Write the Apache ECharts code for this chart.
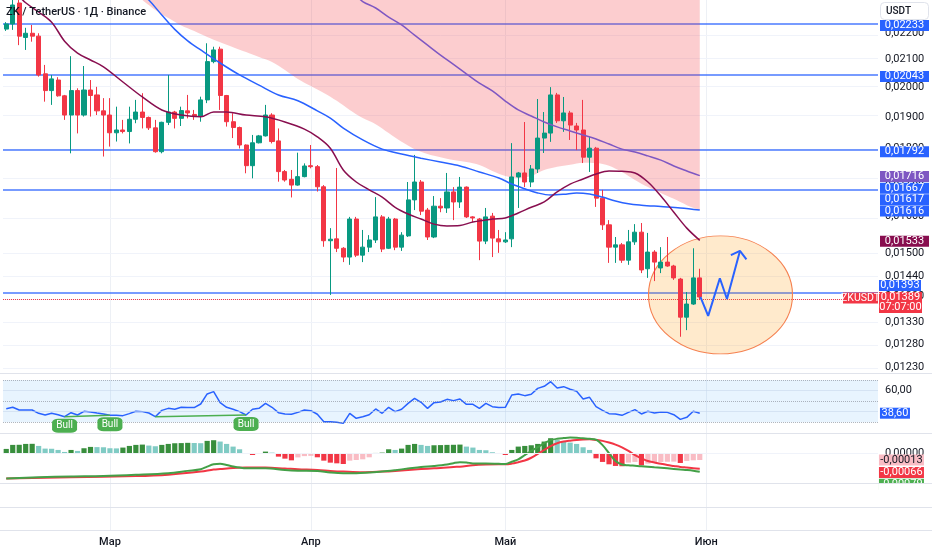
<!DOCTYPE html>
<html><head><meta charset="utf-8">
<script src="https://cdn.jsdelivr.net/npm/echarts@6/dist/echarts.min.js"></script>
<style>html,body{margin:0;padding:0;background:#fff}#c{width:932px;height:550px}</style>
</head><body><div id="c"></div>
<script>
// ---------- data ----------
const opens=[.02215,.02235,.02318,.02183,.02199,.02188,.02049,.01990,.02027,.01972,
.01907,.01990,.01907,.01992,.01975,.01921,.01907,.01849,.01858,.01853,
.01893,.01917,.01899,.01865,.01789,.01883,.01917,.01896,.01921,.01909,
.01902,.01958,.02093,.02139,.01973,.01885,.01866,.01810,.01746,.01817,
.01839,.01907,.01823,.01728,.01705,.01688,.01713,.01746,.01743,.01683,
.01532,.01537,.01512,.01489,.01591,.01494,.01515,.01534,.01597,.01512,
.01591,.01515,.01545,.01645,.01697,.01616,.01542,.01627,.01622,.01668,
.01639,.01682,.01597,.01591,.01531,.01599,.01537,.01529,.01537,.01712,
.01724,.01697,.01736,.01832,.01848,.01975,.01888,.01914,.01871,.01858,
.01772,.01800,.01650,.01575,.01515,.01521,.01481,.01529,.01555,.01459,
.01502,.01461,.01476,.01466,.01433,.01341,.01372,.01436];
const closes=[.02235,.02310,.02188,.02199,.02188,.02045,.01990,.02031,.01972,.01907,
.01990,.01907,.01992,.01973,.01921,.01907,.01849,.01858,.01853,.01893,
.01917,.01899,.01865,.01789,.01883,.01917,.01896,.01922,.01914,.01902,
.01958,.02093,.02136,.01973,.01885,.01866,.01810,.01746,.01817,.01839,
.01907,.01821,.01728,.01703,.01688,.01713,.01745,.01743,.01683,.01532,
.01536,.01512,.01489,.01591,.01494,.01515,.01534,.01597,.01510,.01591,
.01515,.01547,.01645,.01697,.01613,.01542,.01627,.01622,.01668,.01639,
.01682,.01597,.01594,.01531,.01597,.01539,.01529,.01534,.01712,.01724,
.01697,.01736,.01832,.01848,.01975,.01888,.01914,.01874,.01858,.01772,
.01800,.01650,.01575,.01515,.01521,.01481,.01529,.01555,.01456,.01502,
.01476,.01476,.01466,.01436,.01341,.01372,.01436,.01389];
const lows=[.02208,.02212,.02154,.02136,.02167,.02039,.01952,.01941,.01969,.01891,
.01784,.01847,.01902,.01902,.01907,.01774,.01805,.01821,.01847,.01815,
.01880,.01863,.01858,.01786,.01784,.01874,.01863,.01871,.01896,.01891,
.01885,.01947,.02087,.01924,.01869,.01832,.01799,.01723,.01708,.01815,
.01837,.01815,.01698,.01698,.01652,.01686,.01711,.01738,.01669,.01516,
.01394,.01502,.01476,.01469,.01489,.01476,.01502,.01526,.01502,.01510,
.01507,.01505,.01542,.01616,.01602,.01534,.01539,.01610,.01608,.01588,
.01622,.01594,.01583,.01481,.01523,.01489,.01500,.01526,.01515,.01622,
.01682,.01682,.01724,.01785,.01820,.01881,.01852,.01826,.01794,.01754,
.01727,.01625,.01561,.01474,.01474,.01474,.01469,.01521,.01448,.01436,
.01428,.01448,.01464,.01431,.01296,.01311,.01370,.01382];
const highs=[.02242,.02338,.02330,.02220,.02231,.02199,.02081,.02045,.02037,.01975,
.02113,.01998,.02077,.02027,.02003,.01964,.01964,.01935,.01891,.01935,
.01958,.01981,.01902,.01891,.01885,.02045,.01921,.01935,.01975,.01924,
.01969,.02161,.02148,.02148,.01975,.01913,.01869,.01812,.01842,.01842,
.01941,.01913,.01863,.01733,.01733,.01786,.01753,.01810,.01748,.01688,
.01566,.01739,.01515,.01597,.01597,.01561,.01547,.01653,.01602,.01597,
.01594,.01555,.01697,.01779,.01703,.01622,.01656,.01650,.01724,.01682,
.01712,.01684,.01599,.01594,.01622,.01608,.01561,.01555,.01816,.01727,
.01884,.01748,.01961,.01917,.02002,.01982,.01968,.01921,.01881,.01958,
.01836,.01804,.01674,.01588,.01542,.01526,.01561,.01577,.01580,.01553,
.01507,.01515,.01542,.01469,.01436,.01401,.01512,.01459];

// moving averages and cloud edge: [day index, price]
const maMaroon=[[2,.02345],[3,.02319],[5,.02282],[7,.02242],[9,.02169],[11,.02124],[13,.02099],[15,.02074],[18,.02020],[21,.01968],[24,.01924],[27,.01907],[30,.01901],[32,.01917],[34,.01917],[37,.01907],[40,.01901],[43,.01884],[46,.01861],[48,.01836],[50,.01800],[52,.01733],[54,.01697],[56,.01674],[58,.01653],[60,.01624],[62,.01605],[64,.01591],[66,.01577],[68,.01572],[70,.01573],[72,.01583],[75,.01591],[77,.01594],[79,.01608],[81,.01624],[83,.01639],[85,.01668],[87,.01691],[89,.01706],[91,.01721],[93,.01730],[95,.01729],[97,.01724],[99,.01697],[101,.01656],[103,.01610],[105,.01566],[107,.01533]];
const maBlue=[[21,.02350],[22,.02330],[24,.02270],[26,.02214],[28,.02170],[30,.02136],[33,.02088],[36,.02045],[39,.02009],[42,.01975],[45,.01955],[48,.01921],[50,.01897],[52,.01864],[55,.01826],[58,.01797],[61,.01782],[64,.01769],[67,.01757],[70,.01745],[73,.01727],[76,.01709],[78,.01691],[80,.01677],[82,.01665],[84,.01659],[86,.01661],[88,.01665],[90,.01662],[92,.01653],[94,.01642],[96,.01634],[98,.01630],[101,.01626],[104,.01622],[107,.01616]];
const maPurple=[[54,.02350],[55,.02324],[57,.02298],[59,.02262],[61,.02231],[63,.02192],[65,.02154],[67,.02117],[69,.02083],[71,.02049],[73,.02016],[75,.01989],[77,.01954],[79,.01924],[81,.01904],[83,.01884],[85,.01868],[87,.01855],[89,.01842],[91,.01829],[93,.01813],[95,.01797],[97,.01788],[99,.01776],[101,.01763],[103,.01745],[105,.01730],[107,.01716]];
const cloudEdge=[[21,.02330],[23,.02290],[25,.02258],[27,.02229],[29,.02208],[31,.02185],[33,.02165],[35,.02146],[37,.02128],[39,.02110],[41,.02092],[43,.02063],[45,.02031],[47,.02006],[49,.01982],[51,.01955],[53,.01924],[55,.01897],[57,.01877],[59,.01848],[61,.01820],[63,.01797],[65,.01782],[67,.01772],[69,.01763],[71,.01757],[73,.01748],[75,.01730],[77,.01715],[79,.01709],[81,.01715],[83,.01733],[85,.01743],[87,.01749],[89,.01755],[91,.01754],[93,.01746],[95,.01727],[97,.01703],[99,.01682],[101,.01665],[103,.01648],[105,.01630],[107,.01616]];
const hiddenMaLast=[0.01617];

const levels=[0.02233,0.02043,0.01792,0.01667,0.01393];
const priceTicks=[0.0220,0.0210,0.0200,0.0190,0.0180,0.0170,0.0160,0.0150,0.0144,0.0139,0.0133,0.0128,0.0123];
const monthNames=['Янв','Фев','Мар','Апр','Май','Июн','Июл'];
const countdown='07:07:00';

const rsi=[42.9,44.2,41.6,41.6,41.6,38.5,36.9,38.5,37.2,35.3,
39.1,36.9,40.4,39.8,38.8,37.9,36.6,36.6,36.3,38.2,
40.4,40.1,38.8,35.3,41.3,43.2,42.3,44.2,43.9,43.9,
47.3,56.8,59.0,48.6,44.2,42.3,40.1,36.9,42.3,43.2,
47.9,44.2,39.1,37.9,37.6,39.4,41.6,41.0,37.6,30.6,
30.6,30.0,29.0,38.5,33.8,35.3,37.2,42.6,38.5,44.2,
40.1,42.3,47.9,52.7,48.9,43.2,48.6,49.2,51.7,50.5,
52.0,47.0,47.0,43.2,47.9,44.8,43.9,44.2,55.8,56.8,
55.2,56.5,62.1,64.0,68.4,62.4,63.7,61.2,59.3,52.0,
53.6,44.8,41.3,38.2,37.9,36.6,39.4,42.0,37.9,40.4,
38.8,39.8,39.4,37.2,32.8,34.7,40.4,38.6];
const bullLines=[[9,16],[23,37]];
const bullMarks=[9,16,37];

const macdHist=[8.5e-5,16.3e-5,16.5e-5,18.2e-5,18.4e-5,14.3e-5,9.1e-5,8.8e-5,6.5e-5,2.6e-5,
6.5e-5,4.6e-5,9.8e-5,12.4e-5,12.0e-5,11.7e-5,9.8e-5,9.5e-5,11.1e-5,14.3e-5,
16.3e-5,16.9e-5,15.0e-5,13.7e-5,16.3e-5,18.2e-5,19.5e-5,19.8e-5,20.3e-5,20.0e-5,
19.6e-5,24.1e-5,25.4e-5,22.8e-5,18.2e-5,13.0e-5,7.8e-5,-1.3e-5,-3.3e-5,-1.3e-5,
3.3e-5,1.3e-5,-6.5e-5,-10.4e-5,-13.7e-5,-8.0e-5,-5.5e-5,-5.0e-5,-7.8e-5,-14.3e-5,
-18.2e-5,-19.5e-5,-20.8e-5,-14.3e-5,-13.0e-5,-11.7e-5,-7.8e-5,0.65e-5,1.3e-5,7.8e-5,
6.5e-5,9.1e-5,16.3e-5,18.2e-5,16.3e-5,14.3e-5,15.6e-5,15.9e-5,16.3e-5,16.5e-5,
16.9e-5,13.0e-5,11.1e-5,6.5e-5,5.9e-5,2.0e-5,-1.3e-5,-3.3e-5,6.5e-5,13.0e-5,
14.3e-5,15.6e-5,18.2e-5,22.8e-5,29.3e-5,26.0e-5,22.8e-5,20.8e-5,18.2e-5,11.7e-5,
6.5e-5,-9.8e-5,-16.8e-5,-21.4e-5,-24.6e-5,-25.2e-5,-18.1e-5,-16.8e-5,-23.3e-5,-20.1e-5,
-18.1e-5,-16.8e-5,-16.5e-5,-16.2e-5,-18.8e-5,-14.9e-5,-13.6e-5,-13.0e-5];
const macdLine=[[0,-0.00107],[5,-0.00102],[10,-0.00099],[15,-0.00097],[20,-0.00092],[25,-0.00085],[28,-0.00075],[30,-0.00068],[31,-0.00057],[32,-0.00047],[33,-0.00045],[34,-0.00050],[35,-0.00056],[36,-0.00061],[37,-0.00064],[40,-0.00064],[43,-0.00071],[45,-0.00074],[48,-0.00076],[50,-0.00082],[52,-0.00085],[54,-0.00085],[56,-0.00082],[58,-0.00078],[60,-0.00072],[62,-0.00065],[64,-0.00058],[66,-0.00054],[68,-0.00048],[69,-0.00042],[70,-0.00038],[71,-0.00039],[72,-0.00043],[74,-0.00043],[76,-0.00045],[77,-0.00046],[78,-0.00036],[79,-0.00026],[80,-0.00008],[81,0.00010],[82,0.00026],[83,0.00043],[84,0.00056],[85,0.00062],[86,0.00065],[87,0.00067],[88,0.00066],[89,0.00064],[90,0.00062],[91,0.00058],[92,0.00035],[93,0.00001],[94,-0.00033],[95,-0.00048],[96,-0.00051],[97,-0.00053],[98,-0.00055],[100,-0.00060],[102,-0.00064],[104,-0.00069],[105,-0.00071],[106,-0.00074],[107,-0.00079]];
const signalLine=[[0,-0.00107],[10,-0.00102],[20,-0.00097],[25,-0.00091],[30,-0.00078],[32,-0.00069],[33,-0.00067],[35,-0.00063],[37,-0.00061],[40,-0.00061],[43,-0.00065],[45,-0.00068],[48,-0.00071],[50,-0.00075],[52,-0.00078],[55,-0.00081],[58,-0.00078],[60,-0.00075],[62,-0.00071],[64,-0.00067],[66,-0.00064],[67,-0.00063],[69,-0.00058],[70,-0.00057],[72,-0.00051],[74,-0.00048],[76,-0.00047],[77,-0.00047],[78,-0.00044],[79,-0.00038],[80,-0.00031],[81,-0.00019],[82,-0.00003],[83,0.00014],[84,0.00031],[85,0.00043],[86,0.00050],[87,0.00054],[88,0.00057],[89,0.00059],[90,0.00060],[91,0.00057],[92,0.00053],[93,0.00046],[94,0.00037],[95,0.00025],[96,0.00010],[97,-0.00008],[98,-0.00021],[99,-0.00033],[100,-0.00039],[101,-0.00045],[102,-0.00050],[103,-0.00054],[104,-0.00058],[105,-0.00061],[106,-0.00064],[107,-0.00066]];

// drawings: [day index, price]
const arrowPath=[[107.1,0.01389],[108.3,0.01344],[110.1,0.01435],[111.2,0.01384],[113.2,0.01505]];
const arrowHead=[[111.8,0.01494],[113.2,0.01505],[114.2,0.01483]];
const circleCenter=[110.2,0.01394];

// ---------- build ----------
const N=135;
const start=Date.UTC(2025,1,13);
const dates=Array.from({length:N},(_,i)=>new Date(start+i*864e5).toISOString().slice(0,10));
const monthStarts=dates.map((d,i)=>d.endsWith('-01')?i:-1).filter(i=>i>=0);
const L=Math.log;
const fmt5=v=>v.toFixed(5).replace('.',',');
const fmt2=v=>v.toFixed(2).replace('.',',');
const priceAxisTop=0.023302, priceAxisBottom=0.012167;
const FONT='Roboto, "Noto Sans", sans-serif';
const axisText={color:'#131722',fontSize:11,fontFamily:FONT};
const hide={show:false};
const toLn=arr=>arr.map(([k,p])=>[k,L(p)]);
const last=a=>a[a.length-1];

function tag(coord,text,bg,w,h,dx,dy,fg,fs){
  return {coord,symbol:'rect',symbolSize:[w,h],symbolOffset:[dx,dy],
    itemStyle:{color:bg},
    label:{show:true,position:'inside',formatter:text,color:fg||'#fff',fontSize:fs||11,lineHeight:10,fontFamily:FONT}};
}
const histColor=i=>{
  const v=macdHist[i], p=i>0?macdHist[i-1]:v-1;
  if(v>=0) return v>=p?'#388e3c':'#80cbc4';
  return v<p?'#f23645':'#f9bcc4';
};

const X=N-0.5;
const mainTags=[
  tag([X,L(levels[0])],fmt5(levels[0]),'#2962ff',49,11,26.5,1),
  tag([X,L(levels[1])],fmt5(levels[1]),'#2962ff',49,11,26.5,1),
  tag([X,L(levels[2])],fmt5(levels[2]),'#2962ff',49,11,26.5,1),
  tag([X,L(last(maPurple)[1])],fmt5(last(maPurple)[1]),'#7e57c2',49,11,26.5,1),
  tag([X,L(levels[3])],fmt5(levels[3]),'#2962ff',49,11,26.5,-4),
  tag([X,L(hiddenMaLast[0])],fmt5(hiddenMaLast[0]),'#2962ff',49,11,26.5,-10),
  tag([X,L(last(maBlue)[1])],fmt5(last(maBlue)[1]),'#2962ff',49,11,26.5,1),
  tag([X,L(last(maMaroon)[1])],fmt5(last(maMaroon)[1]),'#880e4f',49,11,26.5,1),
  tag([X,L(levels[4])],fmt5(levels[4]),'#2962ff',42,11,22,-9.8),
  tag([X,L(last(closes))],fmt5(last(closes))+'\n'+countdown,'#f23645',43,21,22.5,5.4),
  tag([X,L(last(closes))],'ZKUSDT','#f23645',35,11,-17.5,1,'#fff',10.5)
];

const option={
  animation:false,
  backgroundColor:'#ffffff',
  textStyle:{fontFamily:FONT},
  title:[
    {text:'ZK / TetherUS · 1Д · Binance',left:1,top:2,textStyle:{fontSize:11,fontWeight:500,color:'#131722',fontFamily:FONT}},
    {text:'USDT',right:3,top:2,padding:[4,18,4,6],borderColor:'#e0e3eb',borderWidth:1,borderRadius:4,textStyle:{fontSize:10,fontWeight:500,color:'#131722',fontFamily:FONT}}
  ],
  grid:[
    {left:3,right:54,top:0,height:373},
    {left:3,right:54,top:373,height:60},
    {left:3,right:54,top:433,height:50},
    {left:3,right:54,top:0,height:530}
  ],
  xAxis:[
    {type:'category',gridIndex:0,data:dates,show:false},
    {type:'value',gridIndex:0,min:-0.5,max:N-0.5,show:false},
    {type:'category',gridIndex:1,data:dates,show:false},
    {type:'category',gridIndex:2,data:dates,show:false},
    {type:'category',gridIndex:3,data:dates,axisLine:hide,axisTick:hide,splitLine:hide,
      axisLabel:{...axisText,fontWeight:500,margin:7,interval:(i)=>dates[i].endsWith('-01'),formatter:v=>monthNames[+v.slice(5,7)-1]}}
  ],
  yAxis:[
    {type:'value',gridIndex:0,position:'right',min:L(priceAxisBottom),max:L(priceAxisTop),
      axisLine:hide,axisTick:hide,splitLine:hide,
      axisLabel:{...axisText,margin:7,customValues:priceTicks.map(L),formatter:v=>fmt5(Math.exp(v))}},
    {type:'value',gridIndex:1,position:'right',min:19.9,max:76.6,axisLine:hide,axisTick:hide,splitLine:hide,
      axisLabel:{...axisText,margin:7,customValues:[60],formatter:v=>fmt2(v)}},
    {type:'value',gridIndex:2,position:'right',min:-0.001267,max:0.000866,axisLine:hide,axisTick:hide,splitLine:hide,
      axisLabel:{...axisText,margin:7,customValues:[0],formatter:v=>fmt5(v)}},
    {type:'value',gridIndex:2,min:-0.000577,max:0.000394,show:false},
    {type:'value',gridIndex:3,min:0,max:1,show:false}
  ],
  graphic:[
    ...[373.5,433.5,483.5,507.5,530.5].map(y=>({type:'line',z:101,silent:true,shape:{x1:0,y1:y,x2:932,y2:y},style:{stroke:'#e0e3eb',lineWidth:1}})),
    {type:'rect',z:100,silent:true,shape:{x:879,y:484,width:53,height:23},style:{fill:'#ffffff'}}
  ],
  series:[
    {type:'line',xAxisIndex:4,yAxisIndex:4,data:[],silent:true,
      markLine:{z:0,silent:true,symbol:['none','none'],label:hide,lineStyle:{color:'#edf0f5',width:1,type:'solid'},
        data:monthStarts.map(i=>({xAxis:i}))}},
    {type:'line',xAxisIndex:1,yAxisIndex:0,data:[],silent:true,
      markLine:{z:0,silent:true,symbol:['none','none'],label:hide,lineStyle:{color:'#f0f3fa',width:1,type:'solid'},
        data:priceTicks.map(p=>({yAxis:L(p)}))}},
    {type:'line',xAxisIndex:1,yAxisIndex:0,data:[],silent:true,
      markLine:{z:1,silent:true,symbol:['none','none'],label:hide,lineStyle:{color:'rgba(41,98,255,0.85)',width:1.6,type:'solid'},
        data:[...levels.map(v=>({yAxis:L(v)})),
          {yAxis:L(last(closes)),lineStyle:{color:'#f23645',width:1,type:'dotted'}}]}},
    {type:'line',xAxisIndex:0,yAxisIndex:0,z:2,data:toLn(cloudEdge),symbol:'none',smooth:0.3,silent:true,
      lineStyle:{width:0},areaStyle:{origin:'end',color:'rgba(245,60,70,0.26)',opacity:1}},
    {type:'scatter',xAxisIndex:1,yAxisIndex:0,z:2,silent:true,data:[[circleCenter[0],L(circleCenter[1])]],
      symbol:'circle',symbolSize:[144,118],itemStyle:{color:'rgba(255,152,0,0.2)',borderColor:'#f5804f',borderWidth:1,opacity:1}},
    {type:'candlestick',xAxisIndex:0,yAxisIndex:0,z:3,barWidth:4.6,
      data:opens.map((o,i)=>[L(o),L(closes[i]),L(lows[i]),L(highs[i])]),
      itemStyle:{color:'#089981',color0:'#f23645',borderColor:'#089981',borderColor0:'#f23645',borderWidth:1}},
    {type:'line',xAxisIndex:0,yAxisIndex:0,z:4,data:toLn(maBlue),symbol:'none',smooth:0.35,lineStyle:{color:'#2962ff',width:1.5}},
    {type:'line',xAxisIndex:0,yAxisIndex:0,z:4,data:toLn(maPurple),symbol:'none',smooth:0.35,lineStyle:{color:'#7e57c2',width:1.5}},
    {type:'line',xAxisIndex:0,yAxisIndex:0,z:4,data:toLn(maMaroon),symbol:'none',smooth:0.35,lineStyle:{color:'#880e4f',width:1.5}},
    {type:'line',xAxisIndex:1,yAxisIndex:0,z:5,data:toLn(arrowPath),symbol:'none',lineStyle:{color:'#2962ff',width:2}},
    {type:'line',xAxisIndex:1,yAxisIndex:0,z:5,data:toLn(arrowHead),symbol:'none',lineStyle:{color:'#2962ff',width:2}},
    {type:'scatter',xAxisIndex:1,yAxisIndex:0,data:[],silent:true,markPoint:{z:6,silent:true,data:mainTags}},
    {type:'line',xAxisIndex:2,yAxisIndex:1,z:3,data:rsi,symbol:'none',lineStyle:{color:'#2962ff',width:1.5},
      markArea:{silent:true,itemStyle:{color:'rgba(33,150,243,0.1)'},data:[[{yAxis:70},{yAxis:30}]]},
      markLine:{silent:true,symbol:['none','none'],label:hide,
        data:[
          ...[70,50,30].map(v=>({yAxis:v,lineStyle:{color:'rgba(120,123,134,0.55)',width:1,type:'dotted'}})),
          ...[40,60].map(v=>({yAxis:v,lineStyle:{color:'rgba(200,215,235,0.6)',width:1,type:'solid'}})),
          ...bullLines.map(([a,b])=>[{coord:[a,rsi[a]],lineStyle:{color:'#4caf50',width:1.5,type:'solid'}},{coord:[b,rsi[b]]}])
        ]},
      markPoint:{silent:true,data:[
        ...bullMarks.map(k=>Object.assign(tag([k,rsi[k]],'Bull','#4caf50',25,14,0,9,'#fff',10),{symbol:'roundRect'})),
        tag([N-1,last(rsi)],fmt2(last(rsi)),'#2962ff',30,11,20.2,0)
      ]}},
    {type:'bar',xAxisIndex:3,yAxisIndex:3,barWidth:'80%',z:2,
      data:macdHist.map((v,i)=>({value:v,itemStyle:{color:histColor(i)}})),
      markPoint:{silent:true,data:[tag([N-1,last(macdHist)],fmt5(last(macdHist)),'#f9bcc4',45,11,26.7,0,'#131722')]}},
    {type:'line',xAxisIndex:3,yAxisIndex:2,z:3,data:signalLine,symbol:'none',smooth:0.35,lineStyle:{color:'#f23645',width:2},
      markLine:{silent:true,symbol:['none','none'],label:hide,
        data:[{yAxis:0,lineStyle:{color:'rgba(120,123,134,0.5)',width:1,type:[3,3]}},
              {yAxis:-0.001,lineStyle:{color:'#f0f3fa',width:1,type:'solid'}}]},
      markPoint:{silent:true,data:[tag([N-1,last(signalLine)[1]],fmt5(last(signalLine)[1]),'#f23645',45,11,26.7,3.7)]}},
    {type:'line',xAxisIndex:3,yAxisIndex:2,z:3,data:macdLine,symbol:'none',smooth:0.35,lineStyle:{color:'#43a047',width:2},
      markPoint:{silent:true,data:[tag([N-1,last(macdLine)[1]],fmt5(last(macdLine)[1]),'#4caf50',45,11,26.7,12.4)]}}
  ]
};
const chart=echarts.init(document.getElementById('c'),null,{renderer:'canvas'});
chart.setOption(option);
</script></body></html>
